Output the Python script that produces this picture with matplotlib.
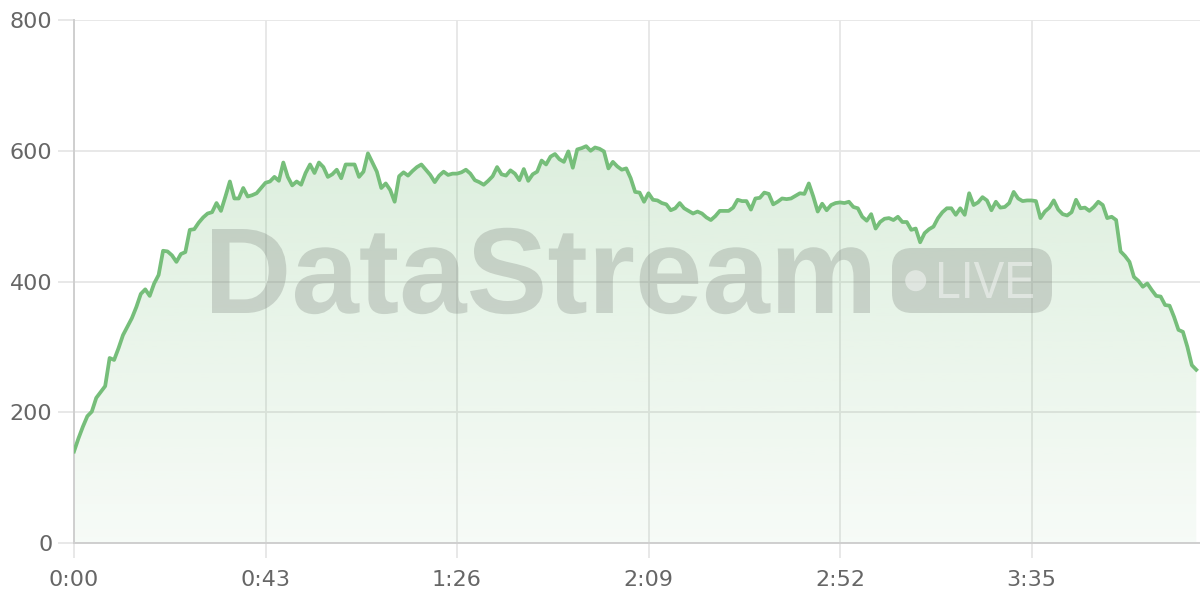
import numpy as np
import matplotlib
matplotlib.use("Agg")
import matplotlib.pyplot as plt
from matplotlib.colors import to_rgb
from matplotlib.patches import FancyBboxPatch, Circle, PathPatch
from matplotlib.textpath import TextPath
from matplotlib.font_manager import FontProperties
from matplotlib.transforms import Affine2D

# one reading per second
values = [
    140, 160, 178, 194, 201, 222, 231, 240, 283, 280, 298, 318, 331, 344, 361, 381,
    388, 378, 397, 410, 447, 446, 440, 430, 442, 445, 479, 480, 490, 498, 504, 506,
    520, 508, 530, 553, 527, 527, 543, 530, 532, 535, 543, 551, 553, 560, 554, 582,
    560, 547, 553, 548, 566, 579, 566, 582, 575, 560, 564, 571, 558, 579, 579, 579,
    560, 568, 596, 582, 568, 543, 550, 540, 522, 561, 567, 562, 569, 575, 579, 571,
    563, 552, 562, 568, 563, 565, 565, 567, 571, 565, 555, 552, 548, 554, 561, 575,
    564, 562, 570, 565, 555, 572, 554, 564, 568, 585, 579, 591, 595, 587, 583, 599,
    574, 602, 604, 607, 600, 605, 603, 599, 573, 583, 576, 571, 573, 558, 537, 536,
    522, 535, 525, 524, 520, 518, 509, 512, 520, 512, 508, 504, 507, 504, 498, 494,
    500, 508, 508, 508, 513, 525, 523, 523, 510, 527, 528, 536, 534, 518, 522, 527,
    526, 527, 531, 535, 534, 550, 530, 507, 519, 509, 517, 520, 521, 520, 522, 514,
    512, 499, 493, 503, 481, 491, 496, 497, 494, 499, 491, 491, 479, 481, 460, 474,
    480, 484, 497, 506, 512, 512, 502, 512, 502, 535, 517, 521, 529, 524, 509, 522,
    513, 514, 520, 537, 527, 523, 524, 524, 523, 497, 507, 513, 524, 510, 503, 501,
    506, 525, 512, 513, 508, 514, 522, 517, 497, 499, 494, 446, 439, 430, 407, 401,
    392, 397, 387, 378, 377, 364, 363, 346, 326, 323, 300, 272, 265,
]
tick_seconds = [0, 43, 86, 129, 172, 215]
tick_labels = ["0:00", "0:43", "1:26", "2:09", "2:52", "3:35"]
y_ticks = [0, 200, 400, 600, 800]

LINE = "#76be7a"
GRID = "#e6e6e6"
W, H = 1200, 600
AX_L, AX_R, AX_T, AX_B = 74, 1200, 20, 543
AX_W, AX_H = AX_R - AX_L, AX_B - AX_T

fig = plt.figure(figsize=(W / 100, H / 100), dpi=100)
ax = fig.add_axes([AX_L / W, (H - AX_B) / H, AX_W / W, AX_H / H])

t = np.arange(len(values))
v = np.array(values, float)

# gradient fill under the curve
poly = ax.fill_between(t, v, 0, color="none", lw=0)
grad = np.zeros((256, 1, 4))
grad[:, :, :3] = to_rgb(LINE)
grad[:, 0, 3] = np.linspace(0.06, 0.25, 256)
img = ax.imshow(grad, extent=[t[0], t[-1], 0, v.max()], origin="lower",
                aspect="auto", zorder=1)
img.set_clip_path(poly.get_paths()[0], transform=ax.transData)

ax.plot(t, v, color=LINE, lw=2.7, zorder=4)

# watermark, placed in image pixel coordinates
PX = Affine2D().translate(-AX_L, -AX_B).scale(1 / AX_W, -1 / AX_H) + ax.transAxes


def word(s, x0, x1, ybase, ytop, prop, color, alpha):
    tp = TextPath((0, 0), s, size=1, prop=prop)
    ext = tp.get_extents()
    cap = TextPath((0, 0), "H", size=1, prop=prop).get_extents().y1
    sx = (x1 - x0) / ext.width
    sy = (ybase - ytop) / cap
    tr = Affine2D().translate(-ext.x0, 0).scale(sx, -sy).translate(x0, ybase) + PX
    ax.add_patch(PathPatch(tp, transform=tr, fc=color, ec="none",
                           alpha=alpha, zorder=2))


bold = FontProperties(family="Liberation Sans", weight="bold")
reg = FontProperties(family="Liberation Sans")
word("DataStream", 212, 870, 313, 229, bold, "#737873", 0.27)
ax.add_patch(FancyBboxPatch((892, 248), 160, 65, boxstyle="round,pad=0,rounding_size=20",
                            transform=PX, fc="#737873", ec="none", alpha=0.27, zorder=2))
ax.add_patch(Circle((915.7, 280.7), 10.5, transform=PX, fc="white", ec="none",
                    alpha=0.45, zorder=3))
word("LIVE", 939, 1033, 298, 262, reg, "white", 0.45)

ax.set_xlim(0, AX_W / (191.5 / 43))
ax.set_ylim(0, 800)
ax.set_xticks(tick_seconds, tick_labels)
ax.set_yticks(y_ticks)
ax.set_axisbelow(True)
ax.grid(color=GRID, lw=1.3)
for side in ("top", "right"):
    ax.spines[side].set_visible(False)
for side in ("left", "bottom"):
    ax.spines[side].set_color("#cfcfcf")
    ax.spines[side].set_linewidth(1.4)
ax.tick_params(axis="y", length=11.5, width=1.3, color=GRID, pad=4,
               labelsize=16, labelcolor="#666666")
ax.tick_params(axis="x", length=10.8, width=1.3, color=GRID, pad=9,
               labelsize=16, labelcolor="#666666")

fig.savefig("out.png", dpi=100)
